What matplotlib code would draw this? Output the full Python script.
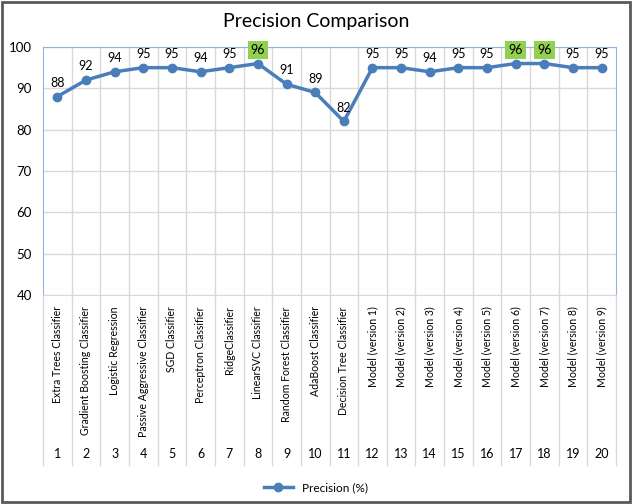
import matplotlib.pyplot as plt
from matplotlib.patches import Rectangle

# data
models = ["Extra Trees Classifier", "Gradient Boosting Classifier", "Logistic Regression",
          "Passive Aggressive Classifier", "SGD Classifier", "Perceptron Classifier",
          "RidgeClassifier", "LinearSVC Classifier", "Random Forest Classifier",
          "AdaBoost Classifier", "Decision Tree Classifier", "Model (version 1)",
          "Model (version 2)", "Model (version 3)", "Model (version 4)", "Model (version 5)",
          "Model (version 6)", "Model (version 7)", "Model (version 8)", "Model (version 9)"]
numbers = list(range(1, 21))
precision = [88, 92, 94, 95, 95, 94, 95, 96, 91, 89, 82, 95, 95, 94, 95, 95, 96, 96, 95, 95]
highlight = [8, 17, 18]

blue = "#4A7EBB"
grid_c = "#D9D9D9"
plt.rcParams['font.family'] = ['Lato', 'DejaVu Sans']


def main():
	fig = plt.figure(figsize=(6.32, 5.04), dpi=100)
	ax = fig.add_axes([43 / 632, 1 - 295 / 504, (616 - 43) / 632, (295 - 47) / 504])

	ax.plot(numbers, precision, color=blue, lw=2.5, marker='o', ms=6,
			label="Precision (%)", zorder=5, clip_on=False)

	for n, v in zip(numbers, precision):
		if n in highlight:
			ax.text(n, v + 1.9, str(v), ha='center', va='bottom', fontsize=9, zorder=6,
					bbox=dict(boxstyle='square,pad=0.25', fc='#92D050', ec='none'))
		else:
			ax.text(n, v + 1.9, str(v), ha='center', va='bottom', fontsize=9, zorder=6)

	ax.set_xlim(0.5, 20.5)
	ax.set_ylim(40, 100)
	ax.set_yticks(range(40, 101, 10))
	ax.tick_params(axis='y', length=0, labelsize=9.5, pad=8)
	ax.tick_params(axis='x', length=0, labelbottom=False)
	ax.yaxis.grid(True, color=grid_c, lw=1)
	ax.set_axisbelow(True)

	# category boundaries, extended down through the label table
	xt = ax.get_xaxis_transform()
	for b in range(1, 20):
		ax.plot([b + 0.5, b + 0.5], [-0.685, 1], color=grid_c, lw=1, transform=xt, clip_on=False, zorder=0)
	for b in [0.5, 20.5]:
		ax.plot([b, b], [-0.685, 0], color=grid_c, lw=1, transform=xt, clip_on=False, zorder=0)

	for n, name in zip(numbers, models):
		ax.text(n, -0.045, name, rotation=90, ha='center', va='top', fontsize=7.6, transform=xt)
		ax.text(n, -0.64, str(n), ha='center', va='center', fontsize=9, transform=xt)

	for side in ['left', 'top', 'right']:
		ax.spines[side].set_color('#8EB4E3')
	ax.spines['bottom'].set_color(grid_c)

	fig.text(0.5, 1 - 22 / 504, "Precision Comparison", ha='center', va='center', fontsize=14)
	fig.legend(loc='center', bbox_to_anchor=(0.5, 1 - 488 / 504), frameon=False, fontsize=8.5,
			   handlelength=2.5)
	fig.patches.append(Rectangle((0.003, 0.004), 0.994, 0.992, transform=fig.transFigure,
								 fill=False, ec='#595959', lw=2))

	fig.savefig("out.png", dpi=100)


if __name__ == "__main__":
	main()
